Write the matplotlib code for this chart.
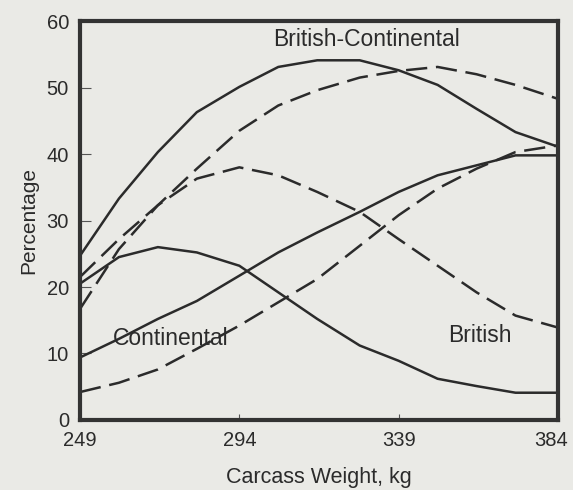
import matplotlib
matplotlib.use("Agg")
from matplotlib import pyplot as plt
import matplotlib.transforms as mtransforms

# carcass weight, kg
weight = [249, 260, 271, 282, 294, 305, 316, 328, 339, 350, 361, 372, 384]

# British-Continental
bc_solid = [24.7, 33.3, 40.3, 46.3, 50.1, 53.1, 54.1, 54.1, 52.6, 50.4, 46.8, 43.3, 41.1]
bc_dash = [16.7, 25.7, 32.3, 37.8, 43.5, 47.3, 49.6, 51.5, 52.5, 53.1, 52.0, 50.4, 48.3]
# Continental
con_solid = [20.5, 24.5, 26.0, 25.2, 23.2, 19.2, 15.2, 11.2, 8.9, 6.2, 5.1, 4.1, 4.1]
con_dash = [21.5, 27.2, 32.3, 36.3, 38.0, 36.8, 34.3, 31.3, 27.2, 23.2, 19.2, 15.7, 13.9]
# British
br_solid = [9.4, 12.2, 15.2, 17.9, 21.7, 25.2, 28.2, 31.3, 34.3, 36.8, 38.3, 39.8, 39.8]
br_dash = [4.2, 5.6, 7.6, 10.7, 14.2, 17.7, 21.2, 26.2, 30.8, 34.8, 37.8, 40.3, 41.3]

xticks = [249, 294, 339, 384]
yticks = [0, 10, 20, 30, 40, 50, 60]

bg = "#eaeae6"
ink = "#2b2b2b"
plt.rcParams['font.family'] = ['Liberation Sans', 'DejaVu Sans']

fig = plt.figure(figsize=(5.73, 4.90), dpi=100, facecolor=bg)
ax = fig.add_axes([0.1396, 0.1429, 0.8342, 0.8141])
ax.set_facecolor(bg)

dash = (0, (8.5, 3.5))
lw = 1.8
for s in [bc_solid, con_solid, br_solid]:
    ax.plot(weight, s, color=ink, lw=lw, solid_joinstyle='miter')
for s in [bc_dash, con_dash, br_dash]:
    ax.plot(weight, s, color=ink, lw=lw, linestyle=dash)

ax.set_xlim(249, 384)
ax.set_ylim(0, 60)
ax.set_xticks(xticks)
ax.set_yticks(yticks)
ax.tick_params(direction='in', colors='#555555', labelcolor=ink, labelsize=14.5,
               width=0.8)
ax.tick_params(axis='y', length=8, pad=8)
ax.tick_params(axis='x', length=4, pad=8)
for sp in ax.spines.values():
    sp.set_linewidth(3)
    sp.set_color('#333333')

# last x label sits against the right edge of the page
last = ax.get_xticklabels()[-1]
last.set_transform(last.get_transform() + mtransforms.ScaledTranslation(-7 / 100, 0, fig.dpi_scale_trans))

ax.text(329.8, 57.2, 'British-Continental', ha='center', va='center', fontsize=16.5, color=ink)
ax.text(274.7, 12.3, 'Continental', ha='center', va='center', fontsize=16.5, color=ink)
ax.text(361.8, 12.7, 'British', ha='center', va='center', fontsize=16.5, color=ink)

ax.set_xlabel('Carcass Weight, kg', fontsize=15.5, color=ink, labelpad=12)
ax.set_ylabel('Percentage', fontsize=15, color=ink, labelpad=6)

fig.savefig('out.png', dpi=100, facecolor=bg)
